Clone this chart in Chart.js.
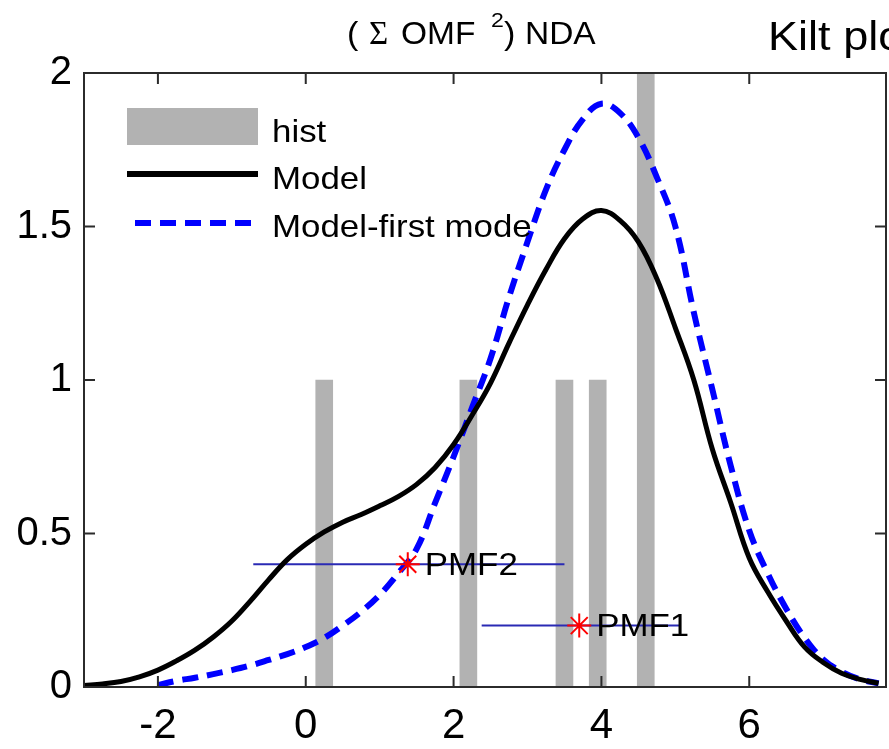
<!DOCTYPE html>
<html>
<head>
<meta charset="utf-8">
<script src="https://cdn.jsdelivr.net/npm/chart.js@4.4.1/dist/chart.umd.min.js"></script>
<style>
  html, body { margin: 0; padding: 0; background: #fff; overflow: hidden; }
  #wrap { width: 900px; height: 749px; }
</style>
</head>
<body>
<div id="wrap"><canvas id="kiltCanvas" width="900" height="749"></canvas></div>
<script>
// values
var modelX = [-3, -2.75, -2.5, -2.25, -2, -1.75, -1.5, -1.25, -1, -0.75, -0.5, -0.25, 0, 0.25, 0.5, 0.75, 1, 1.25, 1.5, 1.75, 2, 2.25, 2.5, 2.75, 3, 3.25, 3.5, 3.75, 4, 4.25, 4.5, 4.75, 5, 5.25, 5.5, 5.75, 6, 6.25, 6.5, 6.75, 7, 7.25, 7.5, 7.75];
var modelY = [0.005, 0.01, 0.018, 0.033, 0.055, 0.085, 0.12, 0.163, 0.215, 0.28, 0.35, 0.415, 0.465, 0.505, 0.537, 0.562, 0.59, 0.62, 0.66, 0.715, 0.79, 0.885, 0.99, 1.12, 1.245, 1.36, 1.46, 1.525, 1.552, 1.52, 1.45, 1.33, 1.17, 1.0, 0.775, 0.60, 0.42, 0.31, 0.215, 0.13, 0.08, 0.045, 0.025, 0.012];

var firstModeX = [-2, -1.75, -1.5, -1.25, -1, -0.75, -0.5, -0.25, 0, 0.25, 0.5, 0.75, 1, 1.25, 1.5, 1.75, 2, 2.25, 2.5, 2.75, 3, 3.25, 3.5, 3.75, 4, 4.25, 4.5, 4.75, 5, 5.25, 5.5, 5.75, 6, 6.25, 6.5, 6.75, 7, 7.25, 7.5, 7.75];
var firstModeY = [0.006, 0.02, 0.03, 0.042, 0.055, 0.07, 0.088, 0.107, 0.13, 0.16, 0.2, 0.245, 0.30, 0.37, 0.45, 0.60, 0.75, 0.91, 1.07, 1.27, 1.45, 1.62, 1.75, 1.85, 1.90, 1.87, 1.79, 1.66, 1.50, 1.22, 0.97, 0.72, 0.51, 0.37, 0.255, 0.16, 0.09, 0.05, 0.025, 0.012];

var histCenters = [0.25, 2.2, 3.5, 3.95, 4.6];
var histCounts = [1, 1, 1, 1, 2];

var pmfNames = ['PMF1', 'PMF2'];
var pmfX = [3.7, 1.38];
var pmfY = [0.2, 0.4];
var pmfLow = [2.38, -0.71];
var pmfHigh = [5.06, 3.5];

var xTicks = [-2, 0, 2, 4, 6];
var yTicks = [0, 0.5, 1, 1.5, 2];

var FONT = '"Liberation Sans", Arial, sans-serif';
var SERIF = '"Liberation Serif", "Times New Roman", serif';

function toPoints(xs, ys) {
  return xs.map(function (x, i) { return { x: x, y: ys[i] }; });
}

// the matlab export is a bit stretched sideways, so text gets a wider scale
function wideText(ctx, text, x, y, size, sx, family) {
  ctx.save();
  ctx.translate(x, y);
  ctx.scale(sx, 1);
  ctx.font = size + 'px ' + (family || FONT);
  ctx.fillText(text, 0, 0);
  ctx.restore();
}

// box round the axes with inward ticks, like matlab
var framePlugin = {
  id: 'frame',
  afterDraw: function (chart) {
    var ctx = chart.ctx;
    var a = chart.chartArea;
    var xs = chart.scales.x;
    var ys = chart.scales.y;
    var len = 11;
    ctx.save();
    ctx.strokeStyle = '#2b2b2b';
    ctx.lineWidth = 2;
    ctx.strokeRect(a.left, a.top, a.right - a.left, a.bottom - a.top);
    ctx.beginPath();
    xTicks.forEach(function (v) {
      var px = xs.getPixelForValue(v);
      ctx.moveTo(px, a.bottom); ctx.lineTo(px, a.bottom - len);
      ctx.moveTo(px, a.top); ctx.lineTo(px, a.top + len);
    });
    yTicks.forEach(function (v) {
      var py = ys.getPixelForValue(v);
      ctx.moveTo(a.left, py); ctx.lineTo(a.left + len, py);
      ctx.moveTo(a.right, py); ctx.lineTo(a.right - len, py);
    });
    ctx.stroke();
    ctx.restore();
  }
};

// titles, legend box and the PMF text labels
var textPlugin = {
  id: 'texts',
  afterDatasetsDraw: function (chart) {
    var ctx = chart.ctx;
    var xs = chart.scales.x;
    var ys = chart.scales.y;
    ctx.save();
    ctx.fillStyle = '#000';
    ctx.textBaseline = 'middle';
    ctx.textAlign = 'left';
    pmfNames.forEach(function (name, i) {
      wideText(ctx, name, xs.getPixelForValue(pmfX[i]) + 17, ys.getPixelForValue(pmfY[i]) + 2, 32, 1.09);
    });

    // legend
    ctx.fillStyle = '#b2b2b2';
    ctx.fillRect(127, 108, 131, 37);
    ctx.strokeStyle = '#000';
    ctx.lineWidth = 6;
    ctx.beginPath(); ctx.moveTo(127, 174); ctx.lineTo(258, 174); ctx.stroke();
    ctx.strokeStyle = '#0000ff';
    ctx.setLineDash([16, 9]);
    ctx.beginPath(); ctx.moveTo(135, 223); ctx.lineTo(258, 223); ctx.stroke();
    ctx.setLineDash([]);
    ctx.fillStyle = '#000';
    ctx.textBaseline = 'alphabetic';
    wideText(ctx, 'hist', 272, 142, 32, 1.09);
    wideText(ctx, 'Model', 272, 189, 32, 1.09);
    wideText(ctx, 'Model-first mode', 272, 237, 32, 1.09);
    ctx.restore();
  },
  afterDraw: function (chart) {
    var ctx = chart.ctx;
    ctx.save();
    ctx.fillStyle = '#000';
    ctx.textBaseline = 'alphabetic';
    ctx.textAlign = 'left';
    // title pieces, placed like the original
    wideText(ctx, '(', 347, 44, 31, 1.1);
    wideText(ctx, '\u03A3', 369, 44, 33, 1.0, SERIF);
    wideText(ctx, 'OMF', 401, 44, 31, 1.08);
    wideText(ctx, '2', 491, 27, 21, 1.1);
    wideText(ctx, ')', 504, 44, 31, 1.1);
    wideText(ctx, 'NDA', 525, 44, 31, 1.08);
    wideText(ctx, 'Kilt plot', 768, 50, 41, 1.1);
    ctx.restore();
  }
};

var datasets = [
  {
    type: 'line',
    label: 'Model',
    data: toPoints(modelX, modelY),
    borderColor: '#000000',
    borderWidth: 5,
    pointRadius: 0,
    tension: 0.4,
    order: 1
  },
  {
    type: 'line',
    label: 'Model-first mode',
    data: toPoints(firstModeX, firstModeY),
    borderColor: '#0000ff',
    borderWidth: 6,
    borderDash: [16, 9],
    pointRadius: 0,
    tension: 0.4,
    order: 2
  }
];

// horizontal PMF lines and red stars
pmfNames.forEach(function (name, i) {
  datasets.push({
    type: 'line',
    label: name + ' range',
    data: [{ x: pmfLow[i], y: pmfY[i] }, { x: pmfHigh[i], y: pmfY[i] }],
    borderColor: '#2a2ab4',
    borderWidth: 2,
    pointRadius: 0,
    order: 4
  });
  datasets.push({
    type: 'scatter',
    label: name,
    data: [{ x: pmfX[i], y: pmfY[i] }],
    pointStyle: 'star',
    pointRadius: 12,
    borderColor: '#ff0000',
    borderWidth: 2,
    order: 0
  });
});

datasets.push({
  type: 'bar',
  label: 'hist',
  data: toPoints(histCenters, histCounts),
  backgroundColor: '#b2b2b2',
  barThickness: 17,
  order: 10
});

var ctx = document.getElementById('kiltCanvas').getContext('2d');
var kiltChart = new Chart(ctx, {
  data: { datasets: datasets },
  options: {
    responsive: false,
    animation: false,
    events: [],
    layout: { padding: { top: 73, right: 9, left: 0, bottom: 0 } },
    plugins: {
      legend: { display: false },
      tooltip: { enabled: false },
      title: { display: false }
    },
    scales: {
      x: {
        type: 'linear',
        min: -3,
        max: 7.85,
        offset: false,
        grid: { display: false, drawTicks: false },
        border: { display: false },
        afterBuildTicks: function (scale) {
          scale.ticks = xTicks.map(function (v) { return { value: v }; });
        },
        afterFit: function (scale) { scale.height = 62; },
        ticks: {
          padding: 14,
          color: '#000',
          maxRotation: 0,
          font: { family: FONT, size: 42 },
          callback: function (v) { return String(v); }
        }
      },
      y: {
        type: 'linear',
        min: 0,
        max: 2,
        grid: { display: false, drawTicks: false },
        border: { display: false },
        afterBuildTicks: function (scale) {
          scale.ticks = yTicks.map(function (v) { return { value: v }; });
        },
        afterFit: function (scale) { scale.width = 84; },
        ticks: {
          padding: 12,
          color: '#000',
          font: { family: FONT, size: 40 },
          callback: function (v) { return String(v); }
        }
      }
    }
  },
  plugins: [framePlugin, textPlugin]
});
</script>
</body>
</html>
